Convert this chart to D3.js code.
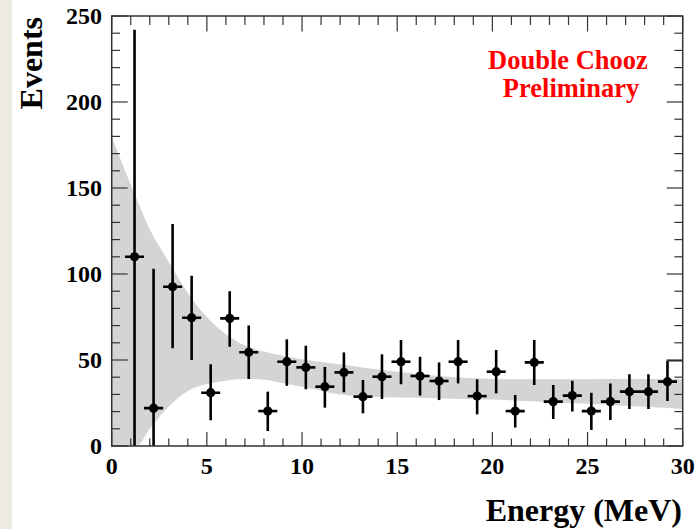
<!DOCTYPE html>
<html>
<head>
<meta charset="utf-8">
<script src="https://cdn.jsdelivr.net/npm/d3@7"></script>
<style>
  html, body { margin: 0; padding: 0; background: #ffffff; }
  svg { display: block; }
</style>
</head>
<body>
<script>
// ---- data ----
const energy   = [1.2, 2.2, 3.2, 4.2, 5.2, 6.2, 7.2, 8.2, 9.2, 10.2, 11.2, 12.2, 13.2, 14.2, 15.2,
                  16.2, 17.2, 18.2, 19.2, 20.2, 21.2, 22.2, 23.2, 24.2, 25.2, 26.2, 27.2, 28.2, 29.2];
const events   = [110, 22, 92.6, 74.6, 31, 74.2, 54.5, 20.3, 49, 45.7, 34.5, 42.8, 28.7, 40.3, 49,
                  40.7, 37.8, 49, 29, 43.2, 20.3, 48.6, 25.8, 29.3, 20.3, 25.8, 31.6, 31.6, 37.4];
const errUp    = [242, 103, 129, 99, 47.5, 90, 70, 31.6, 62, 58.3, 46, 54.4, 38.4, 53.3, 61.6,
                  51.9, 48.6, 61.6, 38.8, 55.8, 29.7, 61.6, 35.5, 38, 31, 36.4, 41.7, 41.7, 49.6];
const errLow   = [-22, -59, 56.8, 50, 15, 57.7, 39, 8.7, 35, 33, 22.3, 31.2, 19, 27.3, 35.9,
                  29.3, 26.7, 36.4, 18.4, 30.6, 10.7, 35.5, 15.7, 20, 9.3, 15.1, 21.5, 21.5, 26.2];
const binHalf  = 0.5;

const bandE     = [0, 1, 1.3, 2, 3, 4, 5, 6, 7, 8, 9, 10, 12, 14, 16, 18, 20, 22, 24, 26, 28, 30];
const bandUpper = [180, 152, 144, 126, 107, 89, 75, 65, 58.5, 55, 52.5, 50.5, 47.5, 44.5, 42, 40, 39, 38.8, 38.8, 39, 39, 39];
const bandLower = [0, 0, 0, 10, 23, 32, 36, 38, 39, 38.5, 36.5, 34.5, 30, 28.5, 28, 27.5, 27, 26, 25, 24, 22.8, 21.5];

const xTicks = [0, 5, 10, 15, 20, 25, 30];
const yTicks = [0, 50, 100, 150, 200, 250];

// ---- layout ----
const W = 698, H = 529;
const L = 111.7, R = 682.7, T = 16, B = 446;

const svg = d3.select("body").append("svg").attr("width", W).attr("height", H);

// left beige strip
svg.append("rect").attr("x", 0).attr("y", 0).attr("width", 12).attr("height", H).attr("fill", "#eeece1");

const x = d3.scaleLinear().domain([0, 30]).range([L, R]);
const y = d3.scaleLinear().domain([0, 250]).range([B, T]);

const clipId = "plotclip";
svg.append("clipPath").attr("id", clipId)
  .append("rect").attr("x", L).attr("y", T).attr("width", R - L).attr("height", B - T);

const plot = svg.append("g").attr("clip-path", `url(#${clipId})`);

// band
const bandData = bandE.map((e, i) => ({e, u: bandUpper[i], l: bandLower[i]}));
plot.append("path")
  .datum(bandData)
  .attr("fill", "#d4d4d4")
  .attr("d", d3.area().curve(d3.curveMonotoneX)
    .x(d => x(d.e)).y0(d => y(d.l)).y1(d => y(d.u)));

// data points
const pts = energy.map((e, i) => ({e, v: events[i], hi: errUp[i], lo: Math.max(0, errLow[i])}));
const g = plot.append("g");
g.selectAll("line.v").data(pts).join("line")
  .attr("x1", d => x(d.e)).attr("x2", d => x(d.e))
  .attr("y1", d => y(d.lo)).attr("y2", d => y(d.hi))
  .attr("stroke", "#000").attr("stroke-width", 2.6);
g.selectAll("line.h").data(pts).join("line")
  .attr("x1", d => x(d.e - binHalf)).attr("x2", d => x(d.e + binHalf))
  .attr("y1", d => y(d.v)).attr("y2", d => y(d.v))
  .attr("stroke", "#000").attr("stroke-width", 2.6);
g.selectAll("circle").data(pts).join("circle")
  .attr("cx", d => x(d.e)).attr("cy", d => y(d.v)).attr("r", 4.6).attr("fill", "#000");

// small step artifact at last bin top
const last = pts[pts.length - 1];
plot.append("line")
  .attr("x1", x(last.e)).attr("x2", x(30))
  .attr("y1", y(last.hi)).attr("y2", y(last.hi))
  .attr("stroke", "#222").attr("stroke-width", 1.5);

// frame
svg.append("rect").attr("x", L).attr("y", T).attr("width", R - L).attr("height", B - T)
  .attr("fill", "none").attr("stroke", "#333").attr("stroke-width", 1.5);

// ticks
const tickColor = "#333";
const xMinor = d3.range(0, 31, 1);
const yMinor = d3.range(0, 251, 10);
const axG = svg.append("g").attr("stroke", tickColor).attr("stroke-width", 1.2);
xMinor.forEach(v => {
  const major = v % 5 === 0;
  axG.append("line").attr("x1", x(v)).attr("x2", x(v)).attr("y1", B).attr("y2", B - (major ? 14 : 7.5));
  axG.append("line").attr("x1", x(v)).attr("x2", x(v)).attr("y1", T).attr("y2", T + (major ? 15.5 : 9));
});
yMinor.forEach(v => {
  const major = v % 50 === 0;
  axG.append("line").attr("y1", y(v)).attr("y2", y(v)).attr("x1", L).attr("x2", L + (major ? 16 : 8.3));
  axG.append("line").attr("y1", y(v)).attr("y2", y(v)).attr("x1", R).attr("x2", R - (major ? 16 : 8.3));
});

// tick labels
const font = "'Liberation Serif', 'Times New Roman', serif";
svg.append("g").selectAll("text").data(xTicks).join("text")
  .attr("x", d => x(d)).attr("y", 474)
  .attr("text-anchor", "middle")
  .attr("font-family", font).attr("font-weight", "bold").attr("font-size", 24)
  .attr("fill", "#000")
  .text(d => d);
svg.append("g").selectAll("text").data(yTicks).join("text")
  .attr("x", 102).attr("y", d => y(d))
  .attr("dy", "0.34em")
  .attr("text-anchor", "end")
  .attr("font-family", font).attr("font-weight", "bold").attr("font-size", 24)
  .attr("fill", "#000")
  .text(d => d);

// axis titles
svg.append("text")
  .attr("x", 682).attr("y", 521)
  .attr("text-anchor", "end")
  .attr("font-family", font).attr("font-weight", "bold").attr("font-size", 32)
  .attr("fill", "#000")
  .text("Energy (MeV)");
svg.append("text")
  .attr("transform", "translate(42,17) rotate(-90)")
  .attr("text-anchor", "end")
  .attr("font-family", font).attr("font-weight", "bold").attr("font-size", 32)
  .attr("fill", "#000")
  .text("Events");

// label
svg.append("text")
  .attr("x", 568).attr("y", 69)
  .attr("text-anchor", "middle")
  .attr("font-family", font).attr("font-weight", "bold").attr("font-size", 26.5)
  .attr("fill", "#ff0000")
  .text("Double Chooz");
svg.append("text")
  .attr("x", 571).attr("y", 97)
  .attr("text-anchor", "middle")
  .attr("font-family", font).attr("font-weight", "bold").attr("font-size", 26.5)
  .attr("fill", "#ff0000")
  .text("Preliminary");
</script>
</body>
</html>
